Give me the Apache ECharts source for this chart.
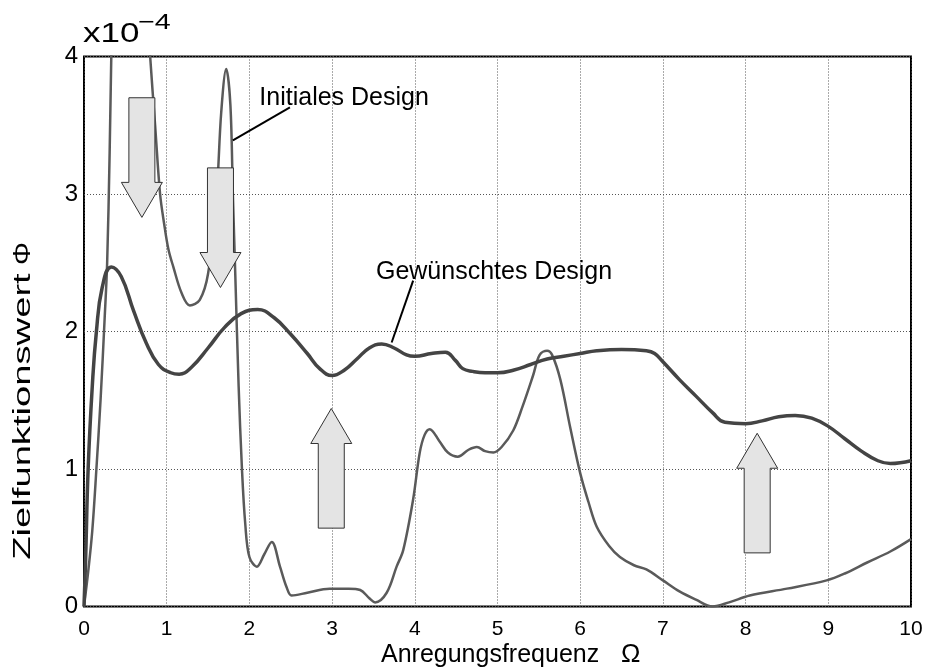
<!DOCTYPE html>
<html>
<head>
<meta charset="utf-8">
<script src="https://cdn.jsdelivr.net/npm/echarts@6/dist/echarts.min.js"></script>
<style>html,body{margin:0;padding:0;background:#fff}#c{width:927px;height:670px}</style>
</head>
<body>
<div id="c"></div>
<script>
// Values in units of 1e-4
const xTicks = [0,1,2,3,4,5,6,7,8,9,10];
const yTicks = [0,1,2,3,4];

const initialX = [0,0.05,0.1,0.15,0.2,0.25,0.28,0.31,0.33,0.36,0.45,0.55,0.7,0.8,0.86,0.92,0.97,1.02,1.08,1.18,1.28,1.4,1.5,1.6,1.66,1.72,1.77,1.8,1.83,1.87,1.91,1.95,2.0,2.09,2.18,2.27,2.37,2.45,2.51,2.7,2.97,3.2,3.34,3.45,3.52,3.66,3.78,3.86,3.98,4.06,4.12,4.18,4.3,4.4,4.52,4.65,4.75,4.85,4.95,5.05,5.19,5.3,5.43,5.51,5.6,5.66,5.76,5.88,6.0,6.1,6.2,6.35,6.48,6.65,6.8,7.0,7.2,7.4,7.6,7.8,8.05,8.5,8.98,9.2,9.47,9.75,10];
const initialY = [0,0.25,0.55,1.0,1.5,2.1,2.5,3.3,4.0,4.8,5.4,5.6,5.0,4.0,3.5,3.0,2.78,2.6,2.47,2.28,2.19,2.23,2.42,2.96,3.6,3.91,3.65,3.0,2.4,1.6,1.0,0.6,0.36,0.29,0.38,0.47,0.29,0.14,0.08,0.10,0.13,0.13,0.12,0.06,0.03,0.10,0.29,0.41,0.78,1.12,1.25,1.29,1.2,1.12,1.09,1.14,1.16,1.13,1.12,1.16,1.28,1.45,1.68,1.83,1.86,1.83,1.65,1.3,0.97,0.76,0.58,0.44,0.36,0.30,0.27,0.19,0.11,0.05,0.0,0.03,0.08,0.13,0.19,0.24,0.32,0.40,0.49];

const desiredX = [0,0.02,0.05,0.1,0.15,0.22,0.33,0.45,0.6,0.75,0.9,1.05,1.15,1.3,1.5,1.7,1.9,2.1,2.3,2.5,2.7,2.85,3.0,3.15,3.3,3.45,3.6,3.75,3.9,4.0,4.2,4.37,4.49,4.58,4.7,4.85,5.0,5.2,5.4,5.6,5.8,6.0,6.2,6.5,6.8,6.9,7.0,7.2,7.4,7.6,7.75,8.0,8.2,8.4,8.6,8.8,9.0,9.2,9.4,9.6,9.75,10];
const desiredY = [0,0.35,1.0,1.6,2.0,2.32,2.47,2.4,2.15,1.92,1.76,1.70,1.69,1.74,1.88,2.03,2.13,2.16,2.10,1.98,1.84,1.73,1.68,1.72,1.80,1.88,1.91,1.88,1.83,1.82,1.84,1.85,1.79,1.73,1.71,1.70,1.70,1.72,1.76,1.80,1.82,1.84,1.86,1.87,1.86,1.84,1.78,1.65,1.53,1.41,1.34,1.33,1.35,1.38,1.39,1.37,1.31,1.22,1.13,1.06,1.04,1.06];

// Arrows: [x centre, tail value, tip value]
const arrows = [[0.70,3.70,2.83],[1.65,3.19,2.32],[2.99,0.57,1.44],[8.14,0.39,1.26]];

// Annotations: text anchor [x, y] and leader line [x1,y1,x2,y2]
const annoNames = ['Initiales Design','Gewünschtes Design'];
const annoText = [[2.12,3.70],[3.53,2.43]];
const annoLine = [[1.80,3.39,2.49,3.63],[3.72,1.92,3.98,2.37]];

const FONT = 'Liberation Sans, Arial, sans-serif';
const chart = echarts.init(document.getElementById('c'), null, {renderer:'canvas'});

const pair = (xs, ys) => xs.map((x,i)=>[x, ys[i]]);

chart.setOption({
  animation:false,
  backgroundColor:'#fff',
  grid:{left:84,right:16,top:56.5,bottom:63.5,show:true,borderColor:'#000',borderWidth:2,backgroundColor:'transparent'},
  xAxis:{type:'value',min:0,max:10,interval:1,
    axisLine:{show:false},axisTick:{show:false},
    axisLabel:{margin:12,fontSize:21,color:'#000',fontFamily:FONT,formatter:v=>xTicks.includes(v)?String(v):''},
    splitLine:{show:true,lineStyle:{type:[1,2],color:'#555',width:1}}},
  yAxis:{type:'value',min:0,max:4,interval:1,
    axisLine:{show:false},axisTick:{show:false},
    axisLabel:{margin:6,fontSize:24,color:'#000',fontFamily:FONT,formatter:v=>yTicks.includes(v)?String(v):''},
    splitLine:{show:true,lineStyle:{type:[1,2],color:'#555',width:1}}},
  series:[
    {type:'line',name:'Initiales Design',data:pair(initialX,initialY),showSymbol:false,
      smooth:0.35,clip:true,z:3,
      lineStyle:{color:'#5a5a5a',width:2.5}},
    {type:'line',name:'Gewünschtes Design',data:pair(desiredX,desiredY),showSymbol:false,
      smooth:0.45,clip:true,z:4,
      lineStyle:{color:'#444',width:3.5}},
    {type:'custom',data:arrows,z:10,clip:false,
      encode:{x:0,y:[1,2]},
      renderItem:function(params,api){
        const xc=api.value(0), a=api.value(1), b=api.value(2);
        const p0=api.coord([xc,a]), p1=api.coord([xc,b]);
        const cx=p0[0];
        const dir=p1[1]>p0[1]?1:-1;
        const hb=p1[1]-dir*35;
        const pts=[[cx-13,p0[1]],[cx+13,p0[1]],[cx+13,hb],[cx+20.5,hb],[cx,p1[1]],[cx-20.5,hb],[cx-13,hb]];
        return {type:'polygon',shape:{points:pts},style:{fill:'#e4e4e4',stroke:'#333',lineWidth:1}};
      }},
    {type:'custom',data:annoText.map((t,i)=>[t[0],t[1],annoLine[i][0],annoLine[i][1],annoLine[i][2],annoLine[i][3]]),
      z:11,clip:false,encode:{x:0,y:1},
      renderItem:function(params,api){
        const i=params.dataIndex;
        const t=api.coord([api.value(0),api.value(1)]);
        const l1=api.coord([api.value(2),api.value(3)]);
        const l2=api.coord([api.value(4),api.value(5)]);
        return {type:'group',children:[
          {type:'line',shape:{x1:l1[0],y1:l1[1],x2:l2[0],y2:l2[1]},style:{stroke:'#000',lineWidth:2}},
          {type:'text',x:t[0],y:t[1],style:{text:annoNames[i],font:'25px '+FONT,fill:'#000',
            align:'left',verticalAlign:'middle',textAlign:'left',textVerticalAlign:'middle'}}
        ]};
      }}
  ],
  graphic:[
    {type:'text',x:83,y:34,scaleX:1.25,style:{text:'x10',font:'28px '+FONT,fill:'#000',align:'left',verticalAlign:'middle',textAlign:'left',textVerticalAlign:'middle'}},
    {type:'text',x:138,y:23,scaleX:1.3,style:{text:'\u22124',font:'22px '+FONT,fill:'#000',align:'left',verticalAlign:'middle',textAlign:'left',textVerticalAlign:'middle'}},
    {type:'text',x:381,y:655,style:{text:'Anregungsfrequenz',font:'25px '+FONT,fill:'#000',align:'left',verticalAlign:'middle',textAlign:'left',textVerticalAlign:'middle'}},
    {type:'text',x:621,y:655,style:{text:'\u03A9',font:'26px '+FONT,fill:'#000',align:'left',verticalAlign:'middle',textAlign:'left',textVerticalAlign:'middle'}},
    {type:'text',x:24,y:416.5,rotation:Math.PI/2,scaleX:1.66,style:{text:'Zielfunktionswert',font:'23px '+FONT,fill:'#000',align:'center',verticalAlign:'middle',textAlign:'center',textVerticalAlign:'middle'}},
    {type:'text',x:24,y:253.5,rotation:Math.PI/2,scaleX:1.25,style:{text:'\u03A6',font:'23px '+FONT,fill:'#000',align:'center',verticalAlign:'middle',textAlign:'center',textVerticalAlign:'middle'}}
  ]
});
</script>
</body>
</html>
